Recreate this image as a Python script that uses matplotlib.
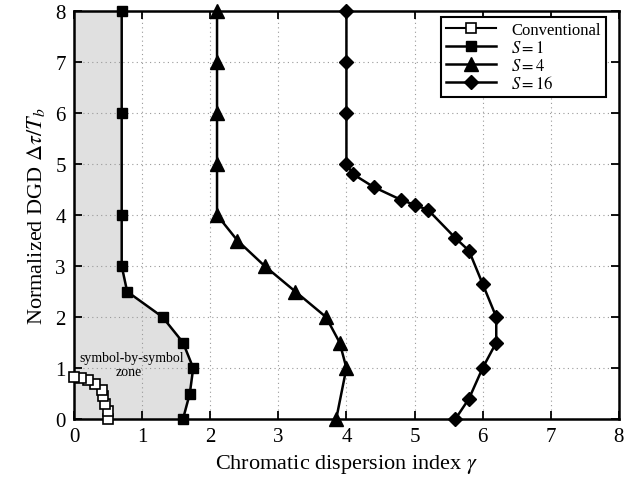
import matplotlib
matplotlib.use("Agg")
import matplotlib.pyplot as plt

plt.rcParams["font.family"] = ["Liberation Serif", "DejaVu Serif"]
plt.rcParams["mathtext.fontset"] = "stix"

# DGD values (y) and dispersion index (x) for each scheme
conv_y = [0, 0.15, 0.3, 0.45, 0.57, 0.69, 0.76, 0.8, 0.83]
conv_x = [0.5, 0.5, 0.46, 0.43, 0.41, 0.31, 0.21, 0.1, 0.0]

s1_y = [0, 0.5, 1, 1.5, 2, 2.5, 3, 4, 6, 8]
s1_x = [1.6, 1.7, 1.75, 1.6, 1.3, 0.78, 0.7, 0.7, 0.7, 0.7]

s4_y = [0, 1, 1.5, 2, 2.5, 3, 3.5, 4, 5, 6, 7, 8]
s4_x = [3.85, 4.0, 3.9, 3.7, 3.25, 2.8, 2.4, 2.1, 2.1, 2.1, 2.1, 2.1]

s16_y = [0, 0.4, 1, 1.5, 2, 2.65, 3.3, 3.55, 4.1, 4.2, 4.3, 4.55, 4.8, 5, 6, 7, 8]
s16_x = [5.6, 5.8, 6.0, 6.2, 6.2, 6.0, 5.8, 5.6, 5.2, 5.0, 4.8, 4.4, 4.1, 4.0, 4.0, 4.0, 4.0]

ticks = [0, 1, 2, 3, 4, 5, 6, 7, 8]

fig = plt.figure(figsize=(6.36, 4.85), dpi=100)
ax = fig.add_axes([0.1164, 0.134, 0.8566, 0.841])

# shaded zone left of the S=1 curve
ax.fill_betweenx(s1_y, 0, s1_x, color="#e0e0e0", zorder=0)

ax.plot(conv_x, conv_y, "k-", marker="s", mfc="white", mec="black", mew=1.2,
        ms=6.5, lw=1.5, label="Conventional", clip_on=False, zorder=3)
ax.plot(s1_x, s1_y, "k-", marker="s", ms=7.5, lw=1.8, label=r"$S=1$",
        clip_on=False, zorder=3)
ax.plot(s4_x, s4_y, "k-", marker="^", ms=10, lw=1.8, label=r"$S=4$",
        clip_on=False, zorder=3)
ax.plot(s16_x, s16_y, "k-", marker="D", ms=7.5, lw=1.8, label=r"$S=16$",
        clip_on=False, zorder=3)

ax.text(0.85, 1.2, "symbol-by-symbol", fontsize=10, ha="center", va="center")
ax.text(0.8, 0.93, "zone", fontsize=10, ha="center", va="center")

ax.set_xlim(0, 8)
ax.set_ylim(0, 8)
ax.set_xticks(ticks)
ax.set_yticks(ticks)
ax.grid(True, linestyle=(0, (1, 3)), color="#999999", lw=0.8)
ax.tick_params(direction="in", top=True, right=True, length=6, width=1.3,
               labelsize=15, pad=6)
for sp in ax.spines.values():
    sp.set_linewidth(1.8)

ax.set_xlabel(r"Chromatic dispersion index $\gamma$", fontsize=16, labelpad=4)
ax.set_ylabel(r"Normalized DGD $\Delta\tau/T_b$", fontsize=16, labelpad=6)

leg = ax.legend(loc="upper right", bbox_to_anchor=(0.976, 0.985), fontsize=12,
                fancybox=False, framealpha=1, edgecolor="black",
                handlelength=3.0, borderpad=0.3, labelspacing=0.1,
                handletextpad=0.9, borderaxespad=0)
leg.get_frame().set_linewidth(1.5)

fig.savefig("out.png", dpi=100)
